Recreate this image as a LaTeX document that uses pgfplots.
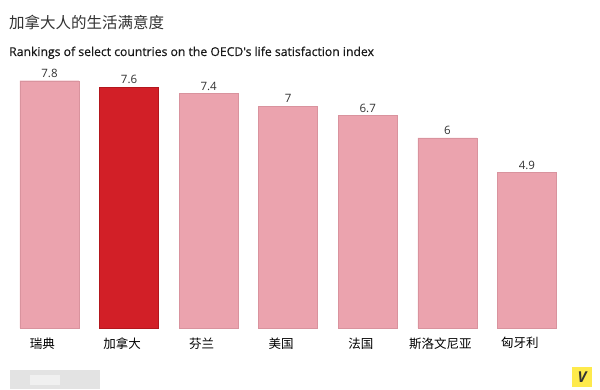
\documentclass[border=0pt]{standalone}
\usepackage{pgfplots}
\pgfplotsset{compat=1.18}
\usepackage{fontspec}
\setmainfont{Open Sans}
\newfontfamily\cjk{Noto Sans CJK SC}
\newfontfamily\subfont[FakeBold=0.4]{Open Sans}
\definecolor{barpink}{HTML}{EBA3AE}
\definecolor{barpinkedge}{HTML}{D9939E}
\definecolor{barred}{HTML}{D21F27}
\definecolor{barrededge}{HTML}{B3161D}
\definecolor{txt}{HTML}{333333}
\begin{document}
\begin{tikzpicture}
\useasboundingbox (0pt,0pt) rectangle (600pt,389pt);
\fill[white] (0pt,0pt) rectangle (600pt,389pt);
\node[anchor=base west, inner sep=0, text=txt, font=\cjk\fontsize{15.5}{18}\selectfont] at (9pt,360pt) {加拿大人的生活满意度};
\node[anchor=base west, inner sep=0, text=black!90, font=\subfont\fontsize{12.2}{14}\selectfont] at (9pt,333pt) {Rankings of select countries on the OECD's life satisfaction index};
\begin{axis}[
  at={(9.7pt,61pt)}, anchor=south west,
  scale only axis, width=557pt, height=269.5pt,
  xmin=-0.5, xmax=6.5, ymin=0, ymax=8.5,
  axis line style={draw=none},
  major tick length=0pt,
  ymajorticks=false,
  xtick={0,1,2,3,4,5,6},
  xticklabels={瑞典,加拿大,芬兰,美国,法国,斯洛文尼亚,匈牙利},
  xticklabel style={font=\cjk\fontsize{12.5}{14}\selectfont, text=black, xshift=-7pt, yshift=-6pt},
  clip=false,
  /pgf/number format/assume math mode=true,
  nodes near coords,
  every node near coord/.append style={font=\fontsize{11.5}{13}\selectfont, text=txt, inner sep=1pt, yshift=2pt},
]
\addplot[ybar, bar width=59pt, fill=barpink, draw=barpinkedge] coordinates {(0,7.8) (2,7.4) (3,7) (4,6.7) (5,6) (6,4.9)};
\addplot[ybar, bar width=59pt, fill=barred, draw=barrededge] coordinates {(1,7.6)};
\end{axis}
\fill[gray!22] (10pt,0pt) rectangle (100pt,19pt);
\fill[gray!12] (30pt,4pt) rectangle (60pt,14pt);
\fill[yellow!85!orange!70] (572pt,2pt) rectangle (592pt,22pt);
\node[font=\bfseries\itshape\fontsize{15}{15}\selectfont, text=black!80] at (582pt,12pt) {V};
\end{tikzpicture}
\end{document}
